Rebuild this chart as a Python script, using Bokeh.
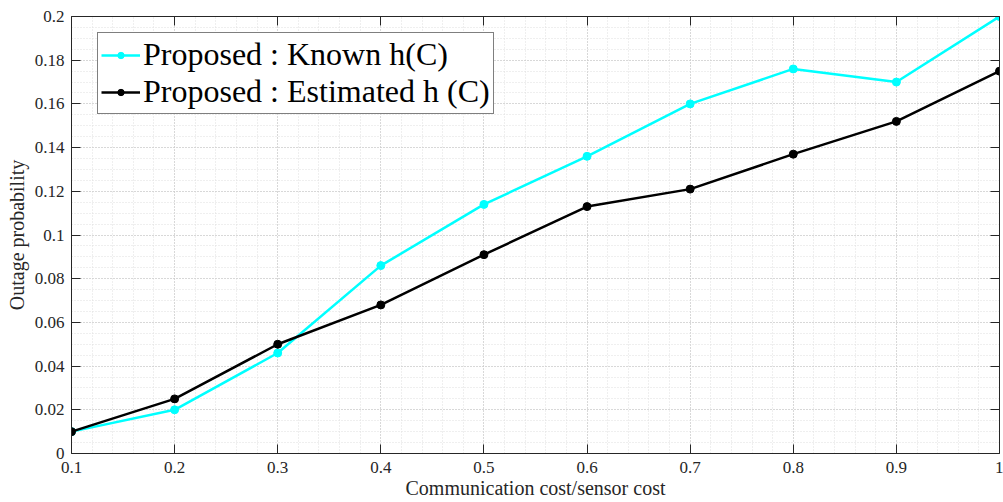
from bokeh.plotting import figure
from bokeh.models import (FixedTicker, LinearAxis, Legend, LegendItem, Range1d)
from bokeh.embed import file_html
from bokeh.resources import INLINE

# ---- data ----
cost_ratio = [0.1, 0.2, 0.3, 0.4, 0.5, 0.6, 0.7, 0.8, 0.9, 1.0]
known_h = [0.010, 0.020, 0.046, 0.086, 0.114, 0.136, 0.160, 0.176, 0.170, 0.200]
estimated_h = [0.010, 0.025, 0.050, 0.068, 0.091, 0.113, 0.121, 0.137, 0.152, 0.175]

x_tick_labels = ["0.1", "0.2", "0.3", "0.4", "0.5", "0.6", "0.7", "0.8", "0.9", "1"]
y_tick_labels = ["0", "0.02", "0.04", "0.06", "0.08", "0.1", "0.12", "0.14",
                 "0.16", "0.18", "0.2"]
series_names = ["Proposed : Known h(C)", "Proposed : Estimated h (C)"]
x_title = "Communication cost/sensor cost"
y_title = "Outage probability"

FONT = "Liberation Serif"
AX = "#262626"

x_ticks = [float(s) for s in x_tick_labels]
y_ticks = [float(s) for s in y_tick_labels]
x_minor = [round(0.1 + i * 0.02, 4) for i in range(46)]
y_minor = [round(i * 0.005, 4) for i in range(41)]

p = figure(width=1003, height=502, output_backend="svg", toolbar_location=None,
           x_range=Range1d(0.1, 1.0), y_range=Range1d(0, 0.2),
           x_axis_label=x_title, y_axis_label=y_title,
           min_border_left=71, min_border_right=1, min_border_top=16,
           min_border_bottom=49, background_fill_color="white",
           border_fill_color="white", outline_line_color=None)

xt = FixedTicker(ticks=x_ticks, minor_ticks=x_minor)
yt = FixedTicker(ticks=y_ticks, minor_ticks=y_minor)
p.xaxis.ticker = xt
p.yaxis.ticker = yt
p.xaxis.major_label_overrides = {v: s for v, s in zip(x_ticks, x_tick_labels)}
p.yaxis.major_label_overrides = {v: s for v, s in zip(y_ticks, y_tick_labels)}

for ax in (p.xaxis[0], p.yaxis[0]):
    ax.axis_line_color = AX
    ax.axis_line_width = 1
    ax.major_tick_line_color = AX
    ax.major_tick_in = 9
    ax.major_tick_out = 0
    ax.minor_tick_line_color = None
    ax.major_label_text_font = FONT
    ax.major_label_text_font_size = "17px"
    ax.major_label_text_color = AX
    ax.axis_label_text_font = FONT
    ax.axis_label_text_font_size = "20px"
    ax.axis_label_text_font_style = "normal"
    ax.axis_label_text_color = AX

p.xaxis.major_label_standoff = 4
p.xaxis.axis_label_standoff = 1
p.yaxis.major_label_standoff = 3
p.yaxis.axis_label_standoff = 4

# top and right box axes with ticks only (empty labels)
for side, tk, vals in (("above", xt, x_ticks), ("right", yt, y_ticks)):
    a = LinearAxis(ticker=tk)
    a.axis_line_color = AX
    a.major_tick_line_color = AX
    a.major_tick_in = 9
    a.major_tick_out = 0
    a.minor_tick_line_color = None
    a.major_label_overrides = {v: "" for v in vals}
    a.major_label_text_font_size = "1px"
    a.major_label_standoff = 0
    p.add_layout(a, side)

for g in (p.xgrid[0], p.ygrid[0]):
    g.grid_line_color = "#c0c0c0"
    g.grid_line_dash = "1 2"
    g.grid_line_width = 1
    g.minor_grid_line_color = "#dedede"
    g.minor_grid_line_dash = "1 2"
    g.minor_grid_line_width = 1

l1 = p.line(cost_ratio, known_h, line_color="#00FFFF", line_width=2.5)
c1 = p.scatter(cost_ratio, known_h, size=8, fill_color="#00FFFF", line_color="#00FFFF")
l2 = p.line(cost_ratio, estimated_h, line_color="black", line_width=2.5)
c2 = p.scatter(cost_ratio, estimated_h, size=8, fill_color="black", line_color="black")

legend = Legend(items=[LegendItem(label=series_names[0], renderers=[l1, c1]),
                       LegendItem(label=series_names[1], renderers=[l2, c2])],
                location=(26, 339), orientation="vertical",
                label_text_font=FONT, label_text_font_size="32px",
                label_text_color="black",
                glyph_width=39, glyph_height=16, label_height=35,
                label_standoff=3, padding=3, spacing=0, margin=0,
                border_line_color="black", border_line_width=1,
                background_fill_color="white", background_fill_alpha=1)
p.add_layout(legend, "center")

open("out.html", "w").write(file_html(p, INLINE))
